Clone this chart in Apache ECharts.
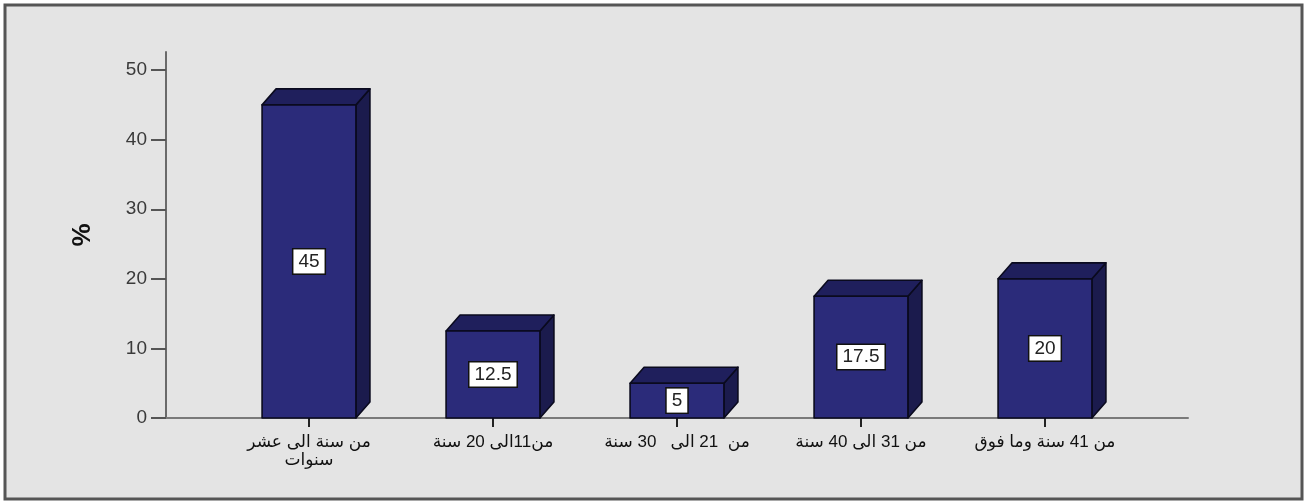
<!DOCTYPE html>
<html>
<head>
<meta charset="utf-8">
<script src="https://cdn.jsdelivr.net/npm/echarts@6/dist/echarts.min.js"></script>
<style>
  html, body { margin: 0; padding: 0; background: #ffffff; }
  #chart { width: 1315px; height: 503px; }
</style>
</head>
<body>
<div id="chart" dir="rtl"></div>
<script>
// Age groups (Arabic) and their share in percent
const categories = [
  'من سنة الى عشر\nسنوات',
  'من11الى 20 سنة',
  'من  21 الى   30 سنة',
  'من 31 الى 40 سنة',
  'من 41 سنة وما فوق'
];
const percentages = [45, 12.5, 5, 17.5, 20];
const yTickValues = [0, 10, 20, 30, 40, 50];
const yAxisTitle = '%';

const Y_MAX = 52.6;   // axis line runs a little above the last tick
const DEPTH_X = 14;   // 3D box depth offsets in pixels
const DEPTH_Y = 16;

const chart = echarts.init(document.getElementById('chart'), null, { renderer: 'canvas' });

function renderBox(params, api) {
  const idx = api.value(0);
  const val = api.value(1);
  const topPt = api.coord([idx, val]);
  const basePt = api.coord([idx, 0]);
  const band = api.size([1, 0])[0];
  const w = band * 0.51;
  const l = topPt[0] - w / 2;
  const r = topPt[0] + w / 2;
  const t = topPt[1];
  const b = basePt[1];
  const edge = { stroke: '#0a0a1e', lineWidth: 1.6, lineJoin: 'round' };
  return {
    type: 'group',
    children: [
      {
        type: 'polygon',
        shape: { points: [[r, t], [r + DEPTH_X, t - DEPTH_Y], [r + DEPTH_X, b - DEPTH_Y], [r, b]] },
        style: Object.assign({ fill: '#1b1b4d' }, edge)
      },
      {
        type: 'polygon',
        shape: { points: [[l, t], [l + DEPTH_X, t - DEPTH_Y], [r + DEPTH_X, t - DEPTH_Y], [r, t]] },
        style: Object.assign({ fill: '#1f1f5c' }, edge)
      },
      {
        type: 'rect',
        shape: { x: l, y: t, width: w, height: b - t },
        style: Object.assign({ fill: '#2b2b7a' }, edge)
      },
      {
        type: 'text',
        x: topPt[0],
        y: (t + b) / 2,
        style: {
          text: String(val),
          align: 'center',
          verticalAlign: 'middle',
          fontFamily: 'Liberation Sans, Arial, sans-serif',
          fontSize: 19,
          fill: '#222',
          backgroundColor: '#ffffff',
          borderColor: '#111',
          borderWidth: 1.5,
          padding: [3, 5, 2, 5]
        }
      }
    ]
  };
}

const option = {
  backgroundColor: '#ffffff',
  animation: false,
  graphic: [
    {
      type: 'rect',
      z: -10,
      shape: { x: 5, y: 5, width: 1297, height: 494 },
      style: { fill: '#e4e4e4', stroke: '#555555', lineWidth: 3 }
    }
  ],
  grid: [
    // frame grid: carries the visible y axis and the full-width baseline
    { left: 166, right: 127, top: 52, bottom: 85 },
    // bar grid: category bands
    { left: 217, width: 920, top: 52, bottom: 85 }
  ],
  xAxis: [
    {
      gridIndex: 0,
      type: 'value',
      min: 0, max: 1,
      axisLine: { show: true, lineStyle: { color: '#7a7a7a', width: 2 } },
      axisTick: { show: false },
      axisLabel: { show: false },
      splitLine: { show: false }
    },
    {
      gridIndex: 1,
      type: 'category',
      data: categories,
      boundaryGap: true,
      axisLine: { show: false },
      axisTick: { show: true, alignWithLabel: true, length: 9, lineStyle: { color: '#222', width: 2 } },
      axisLabel: {
        interval: 0,
        margin: 15,
        color: '#111',
        fontSize: 17,
        lineHeight: 18,
        fontFamily: 'Liberation Sans, DejaVu Sans, sans-serif'
      },
      splitLine: { show: false }
    }
  ],
  yAxis: [
    {
      gridIndex: 0,
      type: 'value',
      min: 0,
      max: Y_MAX,
      name: yAxisTitle,
      nameLocation: 'middle',
      nameGap: 70,
      nameRotate: 90,
      nameTextStyle: { fontSize: 26, fontWeight: 'bold', color: '#111', fontFamily: 'Liberation Sans, Arial, sans-serif' },
      axisLine: { show: true, lineStyle: { color: '#6a6a6a', width: 2 } },
      axisTick: { show: true, length: 15, customValues: yTickValues, lineStyle: { color: '#555', width: 2 } },
      axisLabel: {
        customValues: yTickValues,
        margin: 19,
        color: '#3a3a3a',
        fontSize: 19,
        fontFamily: 'Liberation Sans, Arial, sans-serif'
      },
      splitLine: { show: false }
    },
    {
      gridIndex: 1,
      type: 'value',
      min: 0,
      max: Y_MAX,
      show: false
    }
  ],
  series: [
    {
      type: 'custom',
      xAxisIndex: 1,
      yAxisIndex: 1,
      renderItem: renderBox,
      encode: { x: 0, y: 1 },
      data: percentages.map((v, i) => [i, v])
    }
  ]
};

chart.setOption(option);
</script>
</body>
</html>
